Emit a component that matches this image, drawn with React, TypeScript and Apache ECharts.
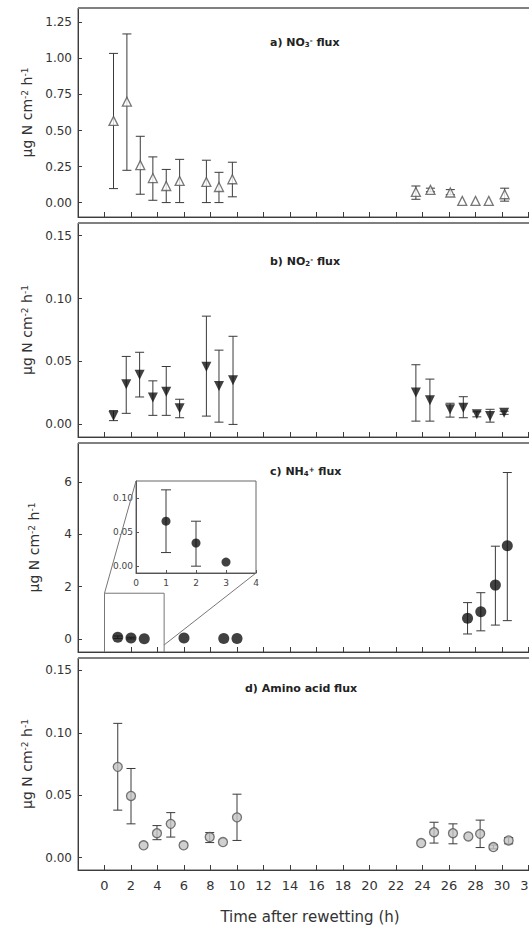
import React, { useEffect, useRef } from "react";
import * as echarts from "echarts";

const FONT = "DejaVu Sans";

// x ticks (hours)
const X_TICKS = [0, 2, 4, 6, 8, 10, 12, 14, 16, 18, 20, 22, 24, 26, 28, 30, 32];

// a) NO3- flux
const timesA = [0.68, 1.69, 2.7, 3.65, 4.66, 5.67, 7.69, 8.64, 9.65, 23.5, 24.6, 26.1, 27.0, 28.0, 29.0, 30.2];
const meanA = [0.567, 0.70, 0.26, 0.17, 0.115, 0.15, 0.143, 0.108, 0.162, 0.074, 0.088, 0.07, 0.012, 0.012, 0.012, 0.058];
const lowA = [0.097, 0.224, 0.058, 0.016, 0.0, 0.0, 0.0, 0.0, 0.04, 0.023, 0.075, 0.055, 0.012, 0.012, 0.012, 0.01];
const highA = [1.035, 1.17, 0.46, 0.317, 0.23, 0.30, 0.294, 0.21, 0.28, 0.115, 0.10, 0.09, 0.012, 0.012, 0.012, 0.10];
const yTicksA = [0, 0.25, 0.5, 0.75, 1.0, 1.25];

// b) NO2- flux
const timesB = [0.68, 1.64, 2.65, 3.65, 4.66, 5.67, 7.69, 8.64, 9.7, 23.5, 24.56, 26.08, 27.08, 28.1, 29.1, 30.16];
const meanB = [0.0066, 0.032, 0.0394, 0.0213, 0.026, 0.0128, 0.0458, 0.0306, 0.035, 0.0253, 0.0192, 0.012, 0.0133, 0.008, 0.0066, 0.0093];
const lowB = [0.003, 0.0088, 0.0218, 0.0072, 0.0072, 0.0053, 0.0066, 0.0018, 0.0, 0.0026, 0.0026, 0.0058, 0.0053, 0.006, 0.0018, 0.008];
const highB = [0.011, 0.054, 0.0573, 0.0346, 0.046, 0.02, 0.086, 0.059, 0.070, 0.0474, 0.036, 0.0168, 0.022, 0.010, 0.012, 0.0105];
const yTicksB = [0, 0.05, 0.1, 0.15];

// c) NH4+ flux
const timesC = [1, 2, 3, 6, 9, 10, 27.4, 28.4, 29.5, 30.4];
const meanC = [0.066, 0.034, 0.006, 0.04, 0.02, 0.02, 0.79, 1.04, 2.06, 3.57];
const lowC = [0.02, 0.0, 0.006, 0.04, 0.02, 0.02, 0.19, 0.31, 0.53, 0.70];
const highC = [0.112, 0.066, 0.006, 0.04, 0.02, 0.02, 1.39, 1.77, 3.55, 6.37];
const yTicksC = [0, 2, 4, 6];

// inset of c)
const timesInset = [1, 2, 3];
const meanInset = [0.066, 0.034, 0.006];
const lowInset = [0.02, 0.0, 0.006];
const highInset = [0.112, 0.066, 0.006];
const insetXTicks = [0, 1, 2, 3, 4];
const insetYTicks = [0, 0.05, 0.1];

// d) Amino acid flux
const timesD = [1.0, 2.0, 2.95, 3.96, 5.0, 5.97, 7.94, 8.94, 10.0, 23.9, 24.87, 26.3, 27.46, 28.35, 29.35, 30.5];
const meanD = [0.0727, 0.0494, 0.0098, 0.0195, 0.027, 0.0098, 0.0164, 0.0124, 0.0322, 0.0116, 0.0203, 0.0195, 0.0169, 0.019, 0.0084, 0.0137];
const lowD = [0.038, 0.027, 0.0098, 0.0143, 0.0164, 0.0098, 0.012, 0.0124, 0.0137, 0.0116, 0.0116, 0.011, 0.0169, 0.008, 0.007, 0.011];
const highD = [0.1076, 0.0714, 0.0098, 0.0256, 0.036, 0.0098, 0.020, 0.0124, 0.0508, 0.0116, 0.0283, 0.027, 0.0169, 0.030, 0.010, 0.016];
const yTicksD = [0, 0.05, 0.1, 0.15];

const GRIDS = [
  { left: 78, top: 8, width: 477, height: 209 },
  { left: 78, top: 223, width: 477, height: 214 },
  { left: 78, top: 443, width: 477, height: 209 },
  { left: 78, top: 658, width: 477, height: 212 },
];
const INSET = { left: 136, top: 481, width: 120, height: 92 };
const Y_RANGES: [number, number][] = [
  [-0.1, 1.35],
  [-0.01, 0.16],
  [-0.5, 7.5],
  [-0.01, 0.16],
];

const AXIS_COLOR = "#3c3c3c";
const TEXT_COLOR = "#333";

function errSeries(idx: number, times: number[], lows: number[], highs: number[], capHalf = 4.5) {
  return {
    type: "custom",
    xAxisIndex: idx,
    yAxisIndex: idx,
    silent: true,
    z: 2,
    data: times.map((t, i) => [t, lows[i], highs[i]]),
    renderItem: (_params: any, api: any) => {
      const x = api.value(0);
      const lo = api.value(1);
      const hi = api.value(2);
      if (!(hi > lo)) return { type: "group", children: [] };
      const a = api.coord([x, lo]);
      const b = api.coord([x, hi]);
      const st = { stroke: "#3a3a3a", lineWidth: 1 };
      return {
        type: "group",
        children: [
          { type: "line", shape: { x1: a[0], y1: a[1], x2: b[0], y2: b[1] }, style: st },
          { type: "line", shape: { x1: a[0] - capHalf, y1: a[1], x2: a[0] + capHalf, y2: a[1] }, style: st },
          { type: "line", shape: { x1: b[0] - capHalf, y1: b[1], x2: b[0] + capHalf, y2: b[1] }, style: st },
        ],
      };
    },
  };
}

function pointSeries(idx: number, times: number[], means: number[], style: any) {
  return {
    type: "scatter",
    xAxisIndex: idx,
    yAxisIndex: idx,
    z: 3,
    silent: true,
    data: times.map((t, i) => [t, means[i]]),
    ...style,
  };
}

const yTitle = "µg N cm{s|-2} h{s|-1}";

export default function App() {
  const ref = useRef<HTMLDivElement>(null);

  useEffect(() => {
    if (!ref.current) return;
    const chart = echarts.init(ref.current, null, { renderer: "svg" });

    const yTickLists = [yTicksA, yTicksB, yTicksC, yTicksD];
    const fmts = [
      (v: number) => v.toFixed(2),
      (v: number) => v.toFixed(2),
      (v: number) => String(Math.round(v)),
      (v: number) => v.toFixed(2),
    ];

    const xAxes: any[] = GRIDS.map((_, i) => ({
      type: "value",
      gridIndex: i,
      min: -2,
      max: 34,
      axisLine: { show: true, onZero: false, lineStyle: { color: AXIS_COLOR, width: 1 } },
      axisTick: { show: true, inside: true, length: 5, customValues: X_TICKS, lineStyle: { color: AXIS_COLOR } },
      axisLabel: {
        show: i === 3,
        customValues: X_TICKS,
        fontSize: 13,
        fontFamily: FONT,
        color: TEXT_COLOR,
        margin: 9,
      },
      splitLine: { show: false },
      name: i === 3 ? "Time after rewetting (h)" : "",
      nameLocation: "middle",
      nameGap: 39,
      nameTextStyle: { fontSize: 15, fontFamily: FONT, color: TEXT_COLOR, padding: [0, 13, 0, 0] },
    }));
    xAxes.push({
      type: "value",
      gridIndex: 4,
      min: 0,
      max: 4,
      axisLine: { show: true, onZero: false, lineStyle: { color: "#555" } },
      axisTick: { show: true, inside: true, length: 3, customValues: insetXTicks, lineStyle: { color: "#555" } },
      axisLabel: { customValues: insetXTicks, fontSize: 9, fontFamily: FONT, color: "#444", margin: 5 },
      splitLine: { show: false },
    });

    const yAxes: any[] = GRIDS.map((_, i) => ({
      type: "value",
      gridIndex: i,
      min: Y_RANGES[i][0],
      max: Y_RANGES[i][1],
      axisLine: { show: true, onZero: false, lineStyle: { color: AXIS_COLOR, width: 1 } },
      axisTick: { show: true, inside: true, length: 4, customValues: yTickLists[i], lineStyle: { color: AXIS_COLOR } },
      axisLabel: {
        customValues: yTickLists[i],
        formatter: fmts[i],
        fontSize: 12,
        fontFamily: FONT,
        color: TEXT_COLOR,
        margin: 6,
      },
      splitLine: { show: false },
      name: yTitle,
      nameLocation: "middle",
      nameRotate: 90,
      nameGap: 37,
      nameTextStyle: {
        fontSize: 14,
        fontFamily: FONT,
        color: TEXT_COLOR,
        rich: {
          s: { fontSize: 9, fontFamily: FONT, color: TEXT_COLOR, verticalAlign: "top" },
        },
      },
    }));
    yAxes.push({
      type: "value",
      gridIndex: 4,
      min: -0.01,
      max: 0.125,
      axisLine: { show: true, onZero: false, lineStyle: { color: "#555" } },
      axisTick: { show: true, inside: true, length: 3, customValues: insetYTicks, lineStyle: { color: "#555" } },
      axisLabel: {
        customValues: insetYTicks,
        formatter: (v: number) => v.toFixed(2),
        fontSize: 9,
        fontFamily: FONT,
        color: "#444",
        margin: 3,
      },
      splitLine: { show: false },
    });

    const titleStyle = () => ({
      fontSize: 11,
      fontWeight: "bold",
      fontFamily: FONT,
      color: "#222",
      rich: {
        sb: { fontSize: 7, fontWeight: "bold", fontFamily: FONT, color: "#222", verticalAlign: "bottom" },
        sp: { fontSize: 7, fontWeight: "bold", fontFamily: FONT, color: "#222", verticalAlign: "top" },
      },
    });

    const option: any = {
      animation: false,
      backgroundColor: "#fff",
      title: [
        { text: "a) NO{sb|3}{sp|-} flux", left: 270, top: 37, padding: 0, textStyle: titleStyle() },
        { text: "b) NO{sb|2}{sp|-} flux", left: 270, top: 256, padding: 0, textStyle: titleStyle() },
        { text: "c) NH{sb|4}{sp|+} flux", left: 270, top: 466, padding: 0, textStyle: titleStyle() },
        { text: "d) Amino acid flux", left: 245, top: 683, padding: 0, textStyle: titleStyle() },
      ],
      grid: [
        ...GRIDS.map((g) => ({ ...g, show: true, borderColor: "#555", borderWidth: 1, backgroundColor: "transparent" })),
        { ...INSET, show: true, borderColor: "#666", borderWidth: 1, backgroundColor: "#fff" },
      ],
      xAxis: xAxes,
      yAxis: yAxes,
      series: [
        errSeries(0, timesA, lowA, highA),
        pointSeries(0, timesA, meanA, {
          symbol: "triangle",
          symbolSize: 9,
          itemStyle: { color: "#fff", borderColor: "#555", borderWidth: 1.3 },
        }),
        errSeries(1, timesB, lowB, highB),
        pointSeries(1, timesB, meanB, {
          symbol: "triangle",
          symbolRotate: 180,
          symbolSize: 10,
          itemStyle: { color: "#111" },
        }),
        errSeries(2, timesC, lowC, highC),
        pointSeries(2, timesC, meanC, {
          symbol: "circle",
          symbolSize: 11,
          itemStyle: { color: "#111" },
        }),
        errSeries(3, timesD, lowD, highD),
        pointSeries(3, timesD, meanD, {
          symbol: "circle",
          symbolSize: 9,
          itemStyle: { color: "#c4c4c4", borderColor: "#555", borderWidth: 1.3 },
        }),
        errSeries(4, timesInset, lowInset, highInset, 5),
        pointSeries(4, timesInset, meanInset, {
          symbol: "circle",
          symbolSize: 9,
          itemStyle: { color: "#111" },
        }),
      ],
    };

    chart.setOption(option);

    // zoom box & connectors for panel c (data coordinates of the zoomed region)
    const px = (x: number, y: number) => chart.convertToPixel({ gridIndex: 2 } as any, [x, y]) as number[];
    const bl = px(0, -0.5);
    const tl = px(0, 1.75);
    const tr = px(4.5, 1.75);
    const br = px(4.5, -0.5);
    const brc = px(4.5, -0.23);
    const insetTL = [INSET.left, INSET.top];
    const insetBR = [INSET.left + INSET.width, INSET.top + INSET.height];
    const lineStyle = { stroke: "#777", lineWidth: 1, fill: null };

    chart.setOption({
      graphic: [
        ...GRIDS.map((g) => ({
          type: "line",
          silent: true,
          z: 10,
          shape: { x1: g.left, y1: g.top, x2: g.left + g.width, y2: g.top },
          style: { stroke: "#808080", lineWidth: 2 },
        })),
        { type: "polyline", silent: true, z: 1, shape: { points: [bl, tl, tr, br] }, style: lineStyle },
        { type: "line", silent: true, z: 1, shape: { x1: tl[0], y1: tl[1], x2: insetTL[0], y2: insetTL[1] }, style: lineStyle },
        { type: "line", silent: true, z: 1, shape: { x1: brc[0], y1: brc[1], x2: insetBR[0], y2: insetBR[1] }, style: lineStyle },
      ],
    });

    return () => chart.dispose();
  }, []);

  return (
    <div style={{ position: "absolute", left: 0, top: 0, width: 529, height: 927, overflow: "hidden", background: "#fff" }}>
      <div ref={ref} style={{ width: 560, height: 927 }} />
    </div>
  );
}
